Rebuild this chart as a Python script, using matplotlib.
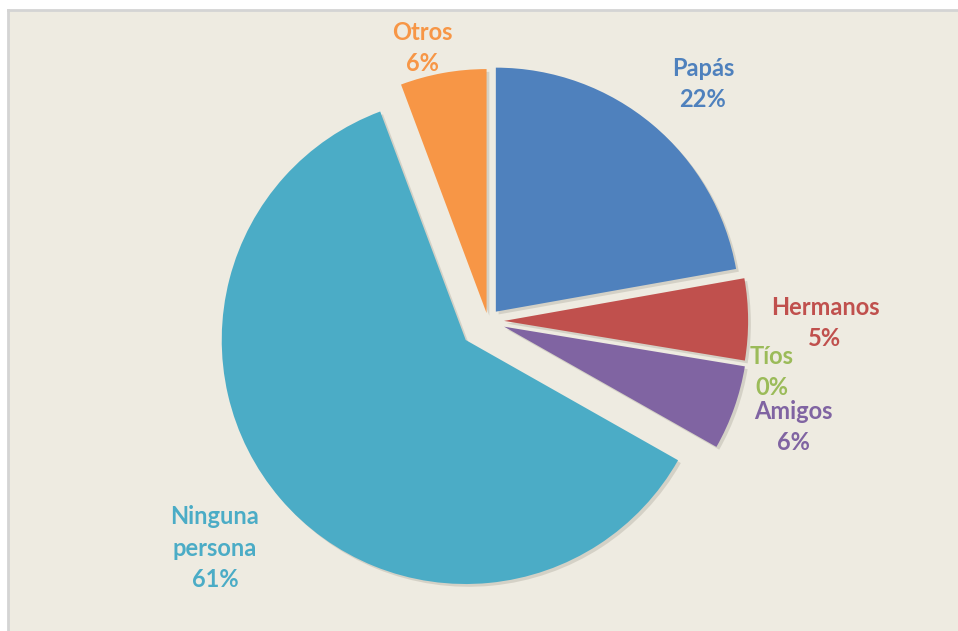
import matplotlib
matplotlib.use("Agg")
import matplotlib.pyplot as plt
import matplotlib.patheffects as pe
from matplotlib.patches import Rectangle

# datos del gráfico (porcentajes)
categorias = ["Papás", "Hermanos", "Tíos", "Amigos", "Ninguna persona", "Otros"]
valores = [22.2, 5.4, 0.0, 5.6, 61.1, 5.7]
etiquetas = ["Papás", "Hermanos", "Tíos", "Amigos", "Ninguna\npersona", "Otros"]

colores = ["#4F81BD", "#C0504D", "#9BBB59", "#8064A2", "#4BACC6", "#F79646"]
explosion = [0.05, 0.066, 0.066, 0.07, 0.12, 0.033]  # fracción del radio
# posición de cada etiqueta en píxeles (x, y desde arriba)
pos_etiquetas = [(703, 84), (825, 323), (772, 372), (793, 427), (215, 548), (422, 48)]

W, H = 958, 631
R = 244
fondo = "#EEEBE1"

fig = plt.figure(figsize=(W / 100, H / 100), dpi=100, facecolor="white")
ax = fig.add_axes([0, 0, 1, 1])

# fondo del área del gráfico con borde a la izquierda y arriba
ax.add_patch(Rectangle((8, 0), W - 8, H - 10, facecolor=fondo, edgecolor="none", zorder=0))
ax.plot([8, 8], [0, H - 10], color="#D4D4D4", lw=2, zorder=0.5)
ax.plot([8, W], [H - 10, H - 10], color="#D4D4D4", lw=2, zorder=0.5)

# en matplotlib explode va en unidades de datos, así que se escala por el radio
cuñas, _ = ax.pie(valores, colors=colores, explode=[e * R for e in explosion], startangle=90,
                  counterclock=False, center=(488, H - 321), radius=R,
                  wedgeprops=dict(linewidth=0))
for c in cuñas:
    c.set_zorder(2)
    c.set_path_effects([pe.SimplePatchShadow(offset=(2, -2), shadow_rgbFace="#8a8578", alpha=0.25),
                        pe.Normal()])

for etq, val, col, (x, y) in zip(etiquetas, valores, colores, pos_etiquetas):
    ax.text(x, H - y, f"{etq}\n{round(val)}%", color=col, ha="center", va="center",
            fontsize=17, fontweight="bold", family="Lato", linespacing=1.45, zorder=3)

ax.set_xlim(0, W)
ax.set_ylim(0, H)
ax.set_aspect("equal")
ax.axis("off")

fig.savefig("out.png", dpi=100, facecolor="white")
